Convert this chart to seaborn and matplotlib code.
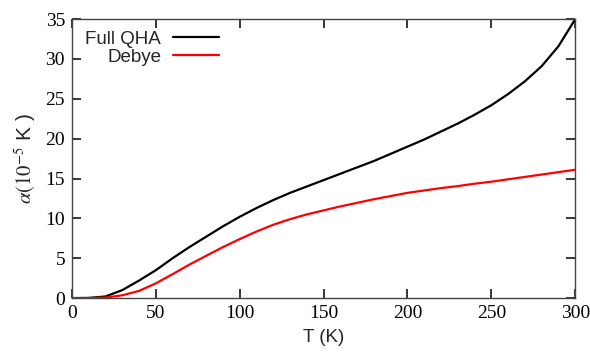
import matplotlib
matplotlib.use('Agg')
import matplotlib.pyplot as plt
import seaborn as sns
import pandas as pd

temps = [0, 10, 20, 30, 40, 50, 60, 70, 80, 90, 100, 110, 120, 130, 140, 150,
         160, 170, 180, 190, 200, 210, 220, 230, 240, 250, 260, 270, 280, 290, 300]
alpha_qha = [0.0, 0.02, 0.2, 1.0, 2.2, 3.5, 5.0, 6.4, 7.7, 9.0, 10.2, 11.3, 12.3, 13.2, 14.0, 14.8,
             15.6, 16.4, 17.2, 18.1, 19.0, 19.9, 20.9, 21.9, 23.0, 24.2, 25.6, 27.2, 29.1, 31.6, 35.0]
alpha_debye = [0.0, 0.0, 0.06, 0.35, 0.9, 1.85, 3.0, 4.2, 5.3, 6.4, 7.4, 8.35, 9.2, 9.9, 10.5, 11.0,
               11.5, 11.95, 12.4, 12.8, 13.2, 13.5, 13.8, 14.05, 14.35, 14.6, 14.9, 15.2, 15.5, 15.8, 16.1]

df = pd.DataFrame({'T': temps * 2,
                   'alpha': alpha_qha + alpha_debye,
                   'model': ['Full QHA'] * len(temps) + ['Debye'] * len(temps)})

sns.set_style('ticks')
plt.rcParams['font.family'] = ['Liberation Serif', 'DejaVu Serif']
plt.rcParams['mathtext.fontset'] = 'stix'

fig = plt.figure(figsize=(5.9, 3.54), dpi=100)
ax = fig.add_axes([0.122, 0.158, 0.853, 0.788])

sns.lineplot(data=df, x='T', y='alpha', hue='model', ax=ax,
             palette={'Full QHA': 'black', 'Debye': '#ff0000'}, linewidth=1.6)

ax.set_xlim(0, 300)
ax.set_ylim(0, 35)
ax.set_xticks(range(0, 301, 50))
ax.set_yticks(range(0, 36, 5))
ax.tick_params(direction='in', length=6.5, width=1.1, color='black', top=True, right=True,
               labelsize=14, pad=5, labelcolor='black')
for s in ax.spines.values():
    s.set_linewidth(1)
    s.set_color('#444444')

sans = ['Liberation Sans', 'DejaVu Sans']
ax.set_xlabel('T (K)', fontsize=13.5, family=sans, labelpad=5)
ax.set_ylabel(r'$\alpha(10^{-5}$ K )', fontsize=15, family=sans, labelpad=5)

leg = ax.legend(loc='upper left', bbox_to_anchor=(-0.007, 1.02), frameon=False,
                markerfirst=False, handlelength=2.45, handletextpad=0.65,
                labelspacing=0.05, prop={'family': sans, 'size': 13.5})
for t in leg.get_texts():
    t.set_ha('right')
leg._legend_box.align = 'right'

fig.savefig('out.png', dpi=100)
